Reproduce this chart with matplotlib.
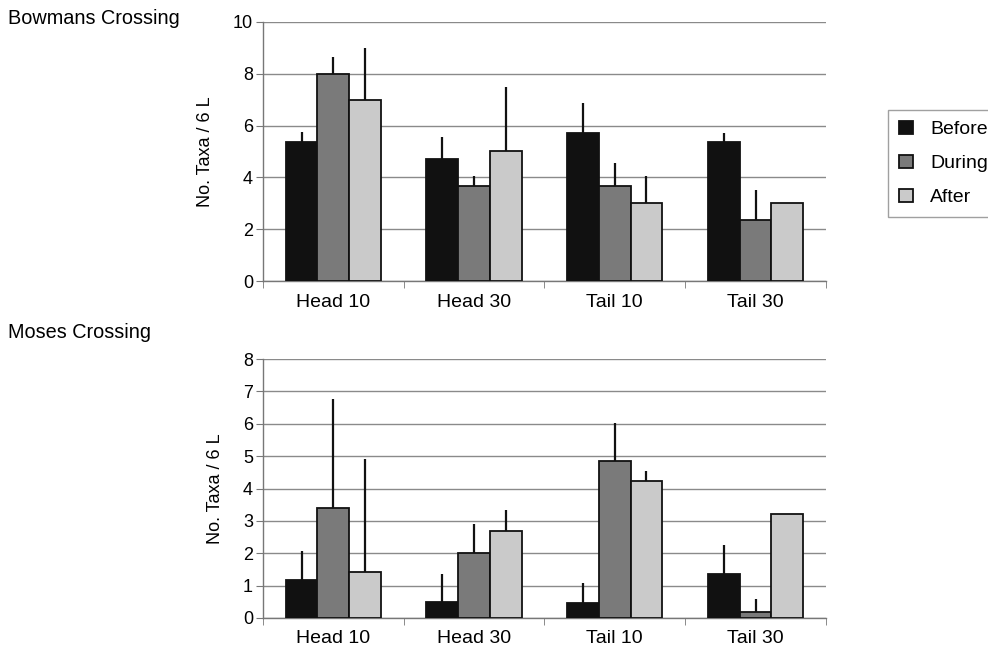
import matplotlib
matplotlib.use("Agg")
import matplotlib.pyplot as plt
import numpy as np

plt.rcParams['font.family'] = ['Liberation Sans', 'DejaVu Sans']

categories = ["Head 10", "Head 30", "Tail 10", "Tail 30"]
series = ["Before", "During", "After"]

# Bowmans Crossing: means and upper error sizes
bow_before = [5.35, 4.7, 5.7, 5.35]
bow_during = [8.0, 3.65, 3.65, 2.35]
bow_after = [7.0, 5.0, 3.0, 3.0]
bow_before_err = [0.4, 0.85, 1.15, 0.35]
bow_during_err = [0.65, 0.4, 0.9, 1.15]
bow_after_err = [2.0, 2.5, 1.05, 0.0]

# Moses Crossing
mos_before = [1.18, 0.5, 0.45, 1.37]
mos_during = [3.4, 2.0, 4.85, 0.2]
mos_after = [1.42, 2.7, 4.22, 3.22]
mos_before_err = [0.88, 0.87, 0.63, 0.88]
mos_during_err = [3.38, 0.9, 1.17, 0.38]
mos_after_err = [3.5, 0.65, 0.31, 0.0]

colors = ["#111111", "#7a7a7a", "#cacaca"]

fig = plt.figure(figsize=(9.88, 6.62), dpi=100)
ax1 = fig.add_axes([0.266, 0.5755, 0.570, 0.3915])
ax2 = fig.add_axes([0.266, 0.0665, 0.570, 0.391])

def draw(ax, vals, errs, ymax):
    x = np.arange(len(categories))
    w = 0.225
    handles = []
    for i, (v, e) in enumerate(zip(vals, errs)):
        pos = x + (i - 1) * w
        b = ax.bar(pos, v, w, color=colors[i], edgecolor="#111111", linewidth=1.3, zorder=3, label=series[i])
        handles.append(b)
        e = np.array(e)
        ax.errorbar(pos, v, yerr=[np.zeros_like(e), e], fmt='none', ecolor="#111111",
                    elinewidth=1.6, capsize=0, zorder=4)
    ax.set_xlim(-0.5, 3.5)
    ax.set_ylim(0, ymax)
    ax.set_yticks(range(0, ymax + 1, 2 if ymax == 10 else 1))
    ax.yaxis.grid(True, color="#8a8a8a", linewidth=1.0, zorder=0)
    ax.set_axisbelow(True)
    ax.set_xticks(x)
    ax.set_xticklabels(categories, fontsize=14)
    ax.tick_params(axis='x', which='major', length=0, pad=9)
    ax.set_xticks([-0.5, 0.5, 1.5, 2.5, 3.5], minor=True)
    ax.tick_params(axis='x', which='minor', length=5, color="#777777", direction='out')
    ax.tick_params(axis='y', length=5, color="#777777", labelsize=13, pad=2)
    for s in ['top', 'right']:
        ax.spines[s].set_visible(False)
    for s in ['left', 'bottom']:
        ax.spines[s].set_color("#777777")
        ax.spines[s].set_linewidth(1.0)
    ax.set_ylabel("No. Taxa / 6 L", fontsize=13, labelpad=14)
    return handles

h = draw(ax1, [bow_before, bow_during, bow_after], [bow_before_err, bow_during_err, bow_after_err], 10)
draw(ax2, [mos_before, mos_during, mos_after], [mos_before_err, mos_during_err, mos_after_err], 8)

fig.text(0.008, 0.972, "Bowmans Crossing", fontsize=14.3, va='center', ha='left')
fig.text(0.008, 0.497, "Moses Crossing", fontsize=14.3, va='center', ha='left')

leg = fig.legend(handles=h, labels=series, loc='upper left', bbox_to_anchor=(0.899, 0.834),
                 fontsize=14, frameon=True, fancybox=False, edgecolor="#888888",
                 handlelength=0.7, handleheight=0.7, handletextpad=0.9, labelspacing=0.85,
                 borderpad=0.55, borderaxespad=0)
leg.get_frame().set_linewidth(1.0)

fig.savefig("out.png", dpi=100)
